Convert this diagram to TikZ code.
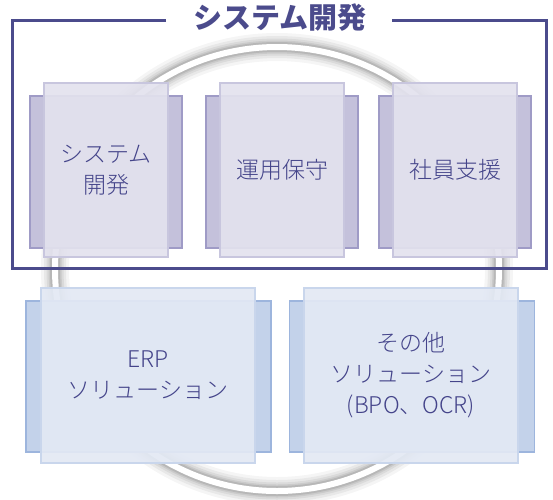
\documentclass[tikz,border=0pt]{standalone}
\usepackage{fontspec}
\setmainfont{Noto Sans CJK JP}
\newfontfamily\lightjp{Noto Sans CJK JP}[UprightFont=* Light]
\definecolor{framec}{HTML}{4B4B8C}
\definecolor{txtc}{HTML}{44448A}
\definecolor{pback}{HTML}{C4C1DB}
\definecolor{pbackd}{HTML}{9F9BC6}
\definecolor{pfront}{HTML}{E3E2EE}
\definecolor{pfrontd}{HTML}{C8C6DE}
\definecolor{bback}{HTML}{C3D2EA}
\definecolor{bbackd}{HTML}{9DB5DD}
\definecolor{bfront}{HTML}{E3E9F4}
\definecolor{bfrontd}{HTML}{C9D6EC}
\tikzset{
  pbk/.style={draw=pbackd, fill=pback, line width=1.2pt, minimum width=152pt, minimum height=152pt, inner sep=0pt},
  pfr/.style={draw=pfrontd, fill=pfront, fill opacity=0.92, line width=1.5pt, minimum width=124pt, minimum height=174pt, inner sep=0pt, text=txtc, font=\lightjp\fontsize{23}{31}\selectfont, align=center, text opacity=1},
  bbk/.style={draw=bbackd, fill=bback, line width=1.2pt, minimum width=245pt, minimum height=151pt, inner sep=0pt},
  bfr/.style={draw=bfrontd, fill=bfront, fill opacity=0.92, line width=1.5pt, minimum width=214pt, minimum height=175pt, inner sep=0pt, text=txtc, font=\lightjp\fontsize{23}{31}\selectfont, align=center, text opacity=1},
}
\begin{document}
\begin{tikzpicture}[x=1pt,y=-1pt]
\useasboundingbox (0,0) rectangle (553,499);
\fill[white] (0,0) rectangle (553,499);
% ring with shadow
\foreach \w/\o in {28/0.04,22/0.05,17/0.06,13/0.07,10/0.09}{
  \draw[black, opacity=\o, line width=\w pt] (277,269) circle[radius=222pt];
}
\draw[white, line width=6pt] (277,269) circle[radius=222pt];
% frame
\draw[framec, line width=3pt] (166,20) -- (12,20) -- (12,268) -- (546,268) -- (546,20) -- (392,20);
\node[text=framec, font=\fontsize{29}{32}\selectfont\bfseries, inner sep=0pt] (title) at (280,18) {システム開発};
% top boxes
\node[pbk] (b1) at (106,172) {};
\node[pfr] (f1) at (106,170) {システム\\開発};
\node[pbk] (b2) at (282,172) {};
\node[pfr] (f2) at (282,170) {運用保守};
\node[pbk] (b3) at (455,172) {};
\node[pfr] (f3) at (455,170) {社員支援};
% bottom boxes
\node[bbk] (b4) at (148.5,376.5) {};
\node[bfr] (f4) at (148,375.5) {ERP\\ソリューション};
\node[bbk] (b5) at (412,376.5) {};
\node[bfr] (f5) at (411,375.5) {その他\\ソリューション\\(BPO、OCR)};
\end{tikzpicture}
\end{document}
